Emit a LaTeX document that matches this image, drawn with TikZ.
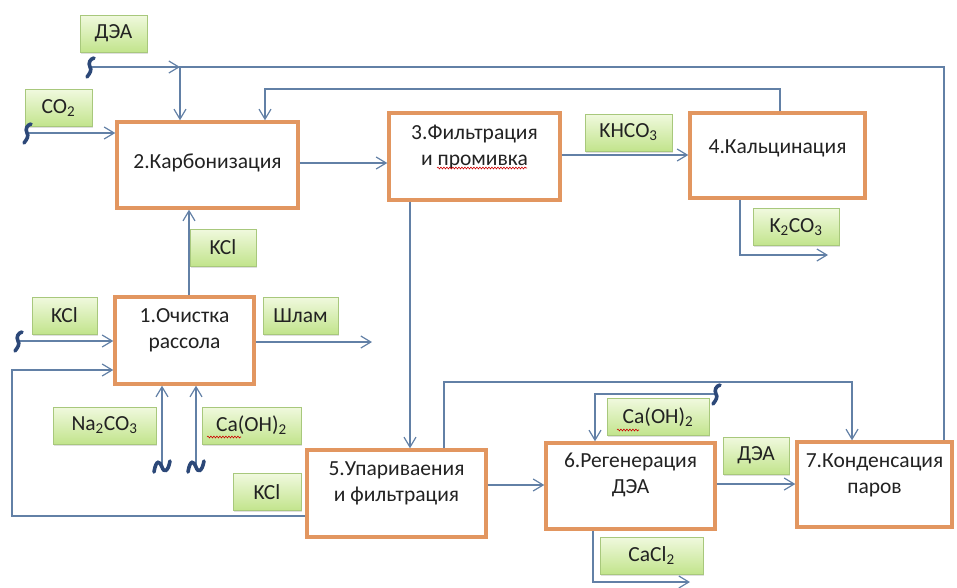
\documentclass[tikz,border=0pt]{standalone}
\usepackage{fontspec}
\setmainfont{Carlito}
\usepackage{xcolor}
\usetikzlibrary{arrows.meta,positioning,shadows,decorations.pathmorphing}

\definecolor{procedge}{RGB}{226,150,96}
\definecolor{wire}{RGB}{98,128,166}
\definecolor{breakcol}{RGB}{44,72,120}
\definecolor{tagtop}{RGB}{240,249,222}
\definecolor{tagbottom}{RGB}{194,228,140}
\definecolor{tagedge}{RGB}{168,200,124}
\definecolor{inktext}{RGB}{34,34,34}
\newcommand{\diafont}{\fontsize{21.5}{26}\selectfont}

\begin{document}
\begin{tikzpicture}[
x=1pt, y=-1pt,
font=\diafont, text=inktext,
proc/.style={draw=procedge, line width=3.4pt, fill=white, minimum height=86pt},
proctext/.style={align=center, font=\diafont, text=inktext},
tag/.style={draw=tagedge, line width=0.8pt, top color=tagtop, bottom color=tagbottom, minimum height=37pt, inner sep=2pt,
  drop shadow={shadow xshift=1.2pt, shadow yshift=-1.6pt, opacity=0.25}},
line/.style={draw=wire, line width=1.2pt, -{Straight Barb[length=10pt, width=12pt]}},
spell/.style={draw=red!80!black, line width=0.6pt, decorate, decoration={snake, amplitude=0.9pt, segment length=3pt}},
breakv/.pic={\draw[breakcol, line width=3.6pt, line cap=round] (-3,10) .. controls (0,6) and (2,3) .. (0,0) .. controls (-2,-4) and (0,-8) .. (4,-9);},
breakh/.pic={\draw[breakcol, line width=3.6pt, line cap=round] (-8,6) .. controls (-6,-7) and (-2,-5) .. (0,1) .. controls (2,7) and (6,6) .. (8,-5);}
]
\useasboundingbox (0,0) rectangle (957,587);

% process stages
\node[proc, minimum width=181pt, label={[proctext, yshift=2pt]center:2.Карбонизация}] (carb) at (207.5,165) {};
\node[proc, minimum width=171pt, minimum height=87pt, label={[proctext, yshift=9.5pt]center:{3.Фильтрация\\и промивка}}] (filt) at (474.5,156.5) {};
\node[proc, minimum width=175pt, minimum height=85pt, label={[proctext, yshift=7.5pt]center:4.Кальцинация}] (calc) at (777.5,155.5) {};
\node[proc, minimum width=139pt, minimum height=87pt, label={[proctext, yshift=10.5pt]center:{1.Очистка\\рассола}}] (clean) at (184.5,340.5) {};
\node[proc, minimum width=179pt, minimum height=87pt, label={[proctext, yshift=10pt]center:{5.Упариваения\\и фильтрация}}] (evap) at (396.5,493.5) {};
\node[proc, minimum width=169pt, label={[proctext, yshift=11pt]center:{6.Регенерация\\ДЭА}}] (regen) at (630.5,486) {};
\node[proc, minimum width=155pt, minimum height=85pt, label={[proctext, yshift=9pt]center:{7.Конденсация\\паров}}] (cond) at (874.5,484.5) {};

% stream tags
\node[tag, minimum width=67pt] (dea1) at (113.5,33.5) {ДЭА};
\node[tag, minimum width=67pt] (co2) at (58.5,108) {CO\textsubscript{2}};
\node[tag, minimum width=87pt] (khco3) at (628.5,132.5) {KHCO\textsubscript{3}};
\node[tag, minimum width=86pt] (k2co3) at (796,227) {K\textsubscript{2}CO\textsubscript{3}};
\node[tag, minimum width=66pt] (kcl2) at (223,247.5) {KCl};
\node[tag, minimum width=65pt] (kcl1) at (64.5,315.5) {KCl};
\node[tag, minimum width=75pt] (slime) at (300.5,315.5) {Шлам};
\node[tag, minimum width=103pt] (soda) at (104.5,425.5) {Na\textsubscript{2}CO\textsubscript{3}};
\node[tag, minimum width=99pt] (lime1) at (251.5,425.5) {Ca(OH)\textsubscript{2}};
\node[tag, minimum width=68pt] (kcl3) at (267,492) {KCl};
\node[tag, minimum width=102pt] (lime2) at (658,417) {Ca(OH)\textsubscript{2}};
\node[tag, minimum width=103pt] (cacl2) at (651.5,555.5) {CaCl\textsubscript{2}};
\node[tag, minimum width=66pt] (dea2) at (756,455.5) {ДЭА};

% wire points
\coordinate (deain) at (90,67);
\coordinate (deaj) at (180,67);
\coordinate (topr) at (944,67);
\coordinate (retl) at (265,89);
\coordinate (co2in) at (27,133);
\coordinate (kclin) at (18,341);
\coordinate (sodain) at (162,466);
\coordinate (limein) at (196,466);
\coordinate (limein2) at (716,394);
\coordinate (recx) at (12,370);
\coordinate (slimeout) at (372,342);
\coordinate (k2co3out) at (828,255);
\coordinate (cacl2out) at (690,582);
\coordinate (vapl) at (852,382);

\draw[line] (deain) -- (deaj);
\draw[line] (cond.north -| topr) |- (deaj) -- (carb.north -| deaj);
\draw[line] (calc.north -| 780,0) |- (retl) -- (carb.north -| retl);
\draw[line] (co2in) -- (co2in -| carb.west);
\draw[line] (carb.east |- 0,163) -- (filt.west |- 0,163);
\draw[line] (filt.east |- 0,155) -- (calc.west |- 0,155);
\draw[line] (calc.south -| 740,0) |- (k2co3out);
\draw[line] (clean.north -| 189,0) -- (carb.south -| 189,0);
\draw[line] (kclin) -- (kclin -| clean.west);
\draw[line] (evap.west |- 0,516) -| (recx) -- (recx -| clean.west);
\draw[line] (clean.east |- slimeout) -- (slimeout);
\draw[line] (sodain) -- (sodain |- clean.south);
\draw[line] (limein) -- (limein |- clean.south);
\draw[line] (filt.south -| 410,0) -- (evap.north -| 410,0);
\draw[line] (evap.north -| 444,0) |- (vapl) -- (cond.north -| vapl);
\draw[line] (evap.east |- 0,485) -- (regen.west |- 0,485);
\draw[line] (limein2) -| (regen.north -| 595,0);
\draw[line] (regen.east |- 0,484) -- (cond.west |- 0,484);
\draw[line] (regen.south -| 593,0) |- (cacl2out);

% break marks
\pic at (deain) {breakv};
\pic at (co2in) {breakv};
\pic at (kclin) {breakv};
\pic at (limein2) {breakv};
\pic at (sodain) {breakh};
\pic at (limein) {breakh};

% spell-check marks
\draw[spell] (437,168) -- (527,168);
\draw[spell] (207,437) -- (241,437);
\draw[spell] (617,430) -- (639,430);
\end{tikzpicture}
\end{document}
